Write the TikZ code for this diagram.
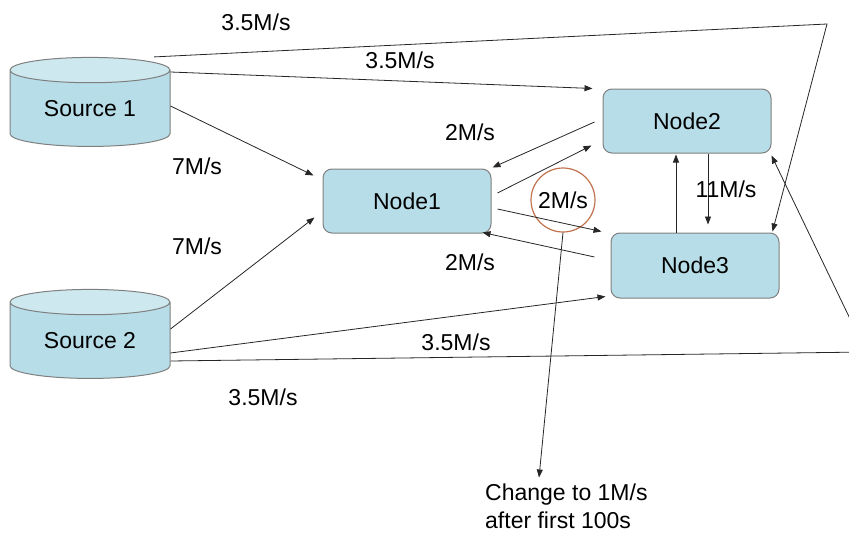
\documentclass[tikz,border=0pt]{standalone}
\usepackage{fontspec}
\setmainfont{Liberation Sans}
\usetikzlibrary{shapes.geometric,arrows.meta}
\definecolor{boxfill}{HTML}{B7DEE8}
\definecolor{boxtop}{HTML}{CDE8EF}
\definecolor{boxline}{HTML}{7F7F7F}
\definecolor{ringcol}{HTML}{C0714E}

\begin{document}
\begin{tikzpicture}[x=1pt,y=-1pt,
	every node/.style={font=\fontsize{23}{27}\selectfont},
	proc/.style={draw=boxline,line width=1pt,fill=boxfill,rounded corners=9pt,minimum width=168pt,minimum height=64pt,inner sep=0pt},
	store/.style={cylinder,shape border rotate=90,aspect=0.275,draw=boxline,line width=1pt,cylinder uses custom fill,cylinder body fill=boxfill,cylinder end fill=boxtop,minimum width=160pt,minimum height=89pt,inner sep=0pt},
	flow/.style={line width=0.8pt,draw=black!85,-{Triangle[length=8pt,width=6pt]}},
	rate/.style={inner sep=0pt},
	ring/.style={circle,draw=ringcol,line width=1.2pt,minimum size=64pt,inner sep=0pt}]
	\useasboundingbox (0,0) rectangle (849,538);
	\clip (0,0) rectangle (849,538);
	
	\node[store] (src1) at (90,108.5) {Source 1};
	\node[store] (src2) at (90,340.5) {Source 2};
	\node[proc] (n1) at (407,201) {Node1};
	\node[proc] (n2) at (687,121) {Node2};
	\node[proc,minimum height=65pt] (n3) at (695,265.5) {Node3};
	\node[ring] (hl) at (563,200) {2M/s};
	\node[anchor=north west,align=left,inner sep=0pt,font=\fontsize{23}{28}\selectfont] (note) at (485,483.5) {Change to 1M/s\\after first 100s};
	
	\coordinate (tr) at (827,24);
	\coordinate (br) at (866,352);
	
	\draw[flow] ([xshift=64pt]src1.north) -- (tr) -- ([xshift=-7pt,yshift=1pt]n3.north east);
	\draw[flow] ([yshift=36.5pt]src1.east) -- ([xshift=-10pt]n2.north west);
	\draw[flow] ([yshift=2.5pt]src1.east) -- ([xshift=-9pt,yshift=-7pt]n1.north west);
	\draw[flow] ([yshift=11.5pt]src2.east) -- ([xshift=-8pt,yshift=16pt]n1.south west);
	\draw[flow] ([yshift=-12.5pt]src2.east) -- ([xshift=-5pt,yshift=2pt]n3.south west);
	\draw[flow] ([yshift=-20.5pt]src2.east) -- (br) -- ([yshift=-2pt]n2.south east);
	
	\draw[flow] ([xshift=-8pt,yshift=-1pt]n2.west) -- ([xshift=1pt,yshift=1pt]n1.north east);
	\draw[flow] ([xshift=6pt,yshift=8pt]n1.east) -- ([xshift=-11pt,yshift=8pt]n2.south west);
	\draw[flow] ([xshift=6pt,yshift=-8pt]n1.east) -- ([xshift=-9pt,yshift=1pt]n3.north west);
	\draw[flow] ([xshift=-16pt,yshift=8.5pt]n3.west) -- ([xshift=-9pt,yshift=1pt]n1.south east);
	\draw[flow] ([xshift=-19pt]n3.north) -- ([xshift=-11pt,yshift=-1pt]n2.south);
	\draw[flow] ([xshift=21pt]n2.south) -- ([xshift=13pt,yshift=8pt]n3.north);
	\draw[flow] (hl.south) -- ([xshift=54pt,yshift=6pt]note.north west);
	
	\node[rate] (r1) at (256,22) {3.5M/s};
	\node[rate] (r2) at (400,60) {3.5M/s};
	\node[rate] (r3) at (197,166) {7M/s};
	\node[rate] (r4) at (197,246) {7M/s};
	\node[rate] (r5) at (470,132) {2M/s};
	\node[rate] (r6) at (470,262) {2M/s};
	\node[rate] (r7) at (456,342) {3.5M/s};
	\node[rate] (r8) at (263,397) {3.5M/s};
	\node[rate] (r9) at (726,189) {11M/s};
\end{tikzpicture}
\end{document}
